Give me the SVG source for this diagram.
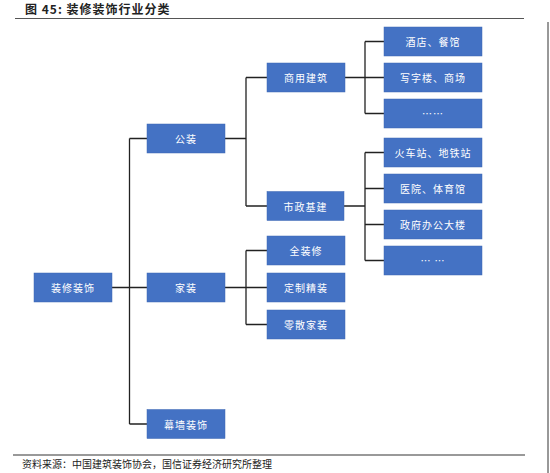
<svg xmlns="http://www.w3.org/2000/svg" width="550" height="473" viewBox="0 0 550 473">
<style>
.b{fill:#4472C4;stroke:#3d67b3;stroke-width:0.5}
.t{fill:#ffffff;font-family:"Noto Sans CJK SC","Liberation Sans",sans-serif;font-size:10px;text-anchor:middle;dominant-baseline:central;letter-spacing:1px}
.c{fill:none;stroke:#222;stroke-width:1.3}
</style>
<rect width="550" height="473" fill="#ffffff"/>
<text x="25" y="14" font-family="&quot;Noto Sans CJK SC&quot;,&quot;Liberation Sans&quot;,sans-serif" font-size="12" font-weight="bold" fill="#222" letter-spacing="1">图 45: 装修装饰行业分类</text>
<line x1="15" y1="18.5" x2="524" y2="18.5" stroke="#555" stroke-width="1"/>
<line x1="548" y1="22" x2="548" y2="473" stroke="#333" stroke-width="1"/>
<g id="connectors" class="c">
<path d="M112 287.5H147M129.5 138.5V424M129.5 138.5H147M129.5 424H147"/>
<path d="M225 138.5H246M246 77.5V206M246 77.5H267M246 206H267"/>
<path d="M345 77.5H365M365 41.5V113.5M365 41.5H384M365 77.5H384M365 113.5H384"/>
<path d="M344 206H365M365 152.5V260.5M365 152.5H384M365 188.5H384M365 224.5H384M365 260.5H384"/>
<path d="M225 287.5H246M246 250.5V324.5M246 250.5H267M246 287.5H267M246 324.5H267"/>
</g>
<g id="n-root"><rect class="b" x="34" y="273" width="78" height="29"/><text class="t" x="73" y="287.5">装修装饰</text></g>
<g id="n-gongzhuang"><rect class="b" x="147" y="124" width="78" height="29"/><text class="t" x="186" y="138.5">公装</text></g>
<g id="n-jiazhuang"><rect class="b" x="147" y="273" width="78" height="29"/><text class="t" x="186" y="287.5">家装</text></g>
<g id="n-muqiang"><rect class="b" x="147" y="409.5" width="78" height="29"/><text class="t" x="186" y="424">幕墙装饰</text></g>
<g id="n-shangyong"><rect class="b" x="267" y="63" width="78" height="29"/><text class="t" x="306" y="77.5">商用建筑</text></g>
<g id="n-shizheng"><rect class="b" x="267" y="191.5" width="77" height="29"/><text class="t" x="305.5" y="206">市政基建</text></g>
<g id="n-quanzhuangxiu"><rect class="b" x="267" y="236" width="78" height="29"/><text class="t" x="306" y="250.5">全装修</text></g>
<g id="n-dingzhi"><rect class="b" x="267" y="273" width="78" height="29"/><text class="t" x="306" y="287.5">定制精装</text></g>
<g id="n-lingsan"><rect class="b" x="267" y="310" width="78" height="29"/><text class="t" x="306" y="324.5">零散家装</text></g>
<g id="n-jiudian"><rect class="b" x="384" y="27" width="98" height="29"/><text class="t" x="433" y="41.5">酒店、餐馆</text></g>
<g id="n-xiezilou"><rect class="b" x="384" y="63" width="98" height="29"/><text class="t" x="433" y="77.5">写字楼、商场</text></g>
<g id="n-etc1"><rect class="b" x="384" y="99" width="98" height="29"/><text class="t" x="433" y="113.5" letter-spacing="0">……</text></g>
<g id="n-huoche"><rect class="b" x="384" y="138" width="98" height="29"/><text class="t" x="433" y="152.5">火车站、地铁站</text></g>
<g id="n-yiyuan"><rect class="b" x="384" y="174" width="98" height="29"/><text class="t" x="433" y="188.5">医院、体育馆</text></g>
<g id="n-zhengfu"><rect class="b" x="384" y="210" width="98" height="29"/><text class="t" x="433" y="224.5">政府办公大楼</text></g>
<g id="n-etc2"><rect class="b" x="384" y="246" width="98" height="29"/><text class="t" x="433" y="260.5" letter-spacing="0">… …</text></g>
<line x1="13" y1="455" x2="525" y2="455" stroke="#999" stroke-width="2"/>
<text x="22" y="468" font-family="&quot;Noto Sans CJK SC&quot;,&quot;Liberation Sans&quot;,sans-serif" font-size="10" fill="#222">资料来源：中国建筑装饰协会，国信证券经济研究所整理</text>
</svg>
